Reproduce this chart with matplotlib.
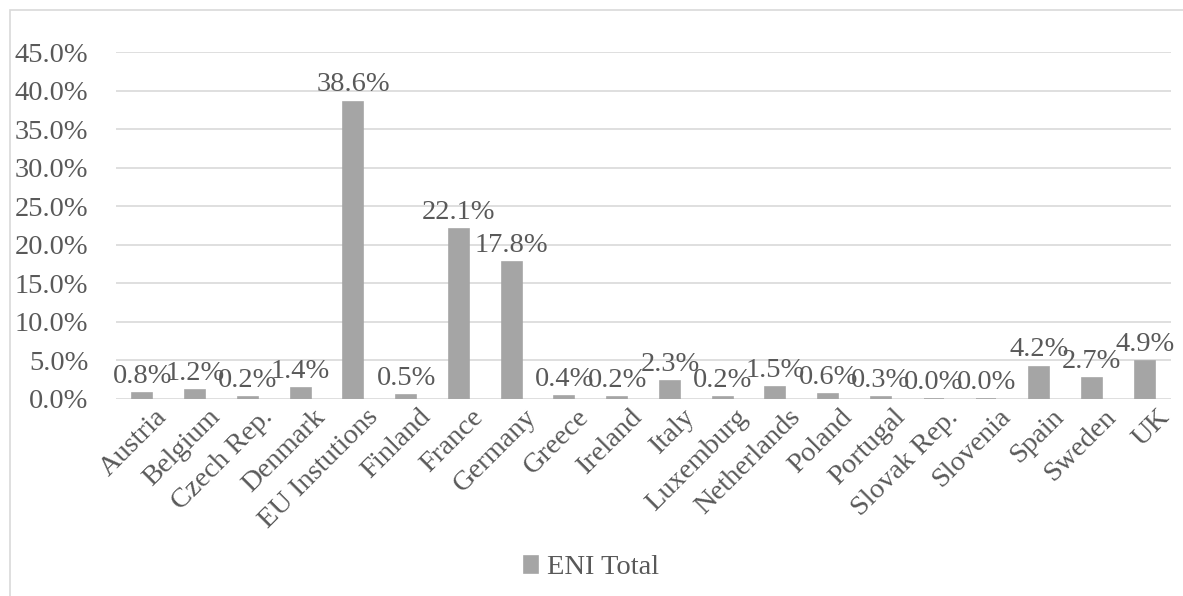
import numpy as np
import matplotlib.pyplot as plt
import matplotlib.transforms as mtransforms
from matplotlib.patches import Rectangle
from matplotlib.ticker import PercentFormatter

plt.rcParams['font.family'] = ['Liberation Serif', 'DejaVu Serif']

countries = ['Austria', 'Belgium', 'Czech Rep.', 'Denmark', 'EU Instutions', 'Finland',
             'France', 'Germany', 'Greece', 'Ireland', 'Italy', 'Luxemburg', 'Netherlands',
             'Poland', 'Portugal', 'Slovak Rep.', 'Slovenia', 'Spain', 'Sweden', 'UK']
eni_total = [0.8, 1.2, 0.2, 1.4, 38.6, 0.5, 22.1, 17.8, 0.4, 0.2, 2.3, 0.2, 1.5,
             0.6, 0.3, 0.04, 0.04, 4.2, 2.7, 4.9]

W, H = 1183, 596
FS = 20.5
fig = plt.figure(figsize=(W / 100, H / 100), dpi=100)
ax = fig.add_axes([116 / W, 1 - 399 / H, (1171 - 116) / W, (399 - 52.3) / H])

# outer chart border
fig.patches.append(Rectangle((10 / W, -0.05), 1.2, 1 - 10 / H + 0.05,
                             transform=fig.transFigure, fill=False,
                             edgecolor='#d9d9d9', linewidth=1.2))

text_col = '#595959'
bar_col = '#a5a5a5'
vals = np.array(eni_total) / 100
x = np.arange(len(countries))
ax.bar(x, vals, width=0.38, color=bar_col, edgecolor=bar_col, linewidth=1.2,
       label='ENI Total', zorder=3)

for xi, v in zip(x, eni_total):
    ax.annotate(f'{v:.1f}%', (xi, v / 100), xytext=(0, 3), textcoords='offset points',
                ha='center', va='bottom', fontsize=FS, color=text_col)

ax.set_xlim(-0.5, len(countries) - 0.5)
ax.set_ylim(0, 0.45)
ax.set_yticks(np.arange(0, 0.451, 0.05))
ax.yaxis.set_major_formatter(PercentFormatter(1.0, decimals=1))
ax.grid(axis='y', color='#d9d9d9', linewidth=1.2, zorder=0)
ax.set_axisbelow(True)
for s in ax.spines.values():
    s.set_visible(False)
ax.tick_params(length=0, labelsize=FS, colors=text_col)
ax.tick_params(axis='y', pad=20)
ax.tick_params(axis='x', pad=4)
ax.set_xticks(x)
ax.set_xticklabels(countries, rotation=45, ha='right', rotation_mode='anchor')
shift = mtransforms.ScaledTranslation(12 / 100, 0, fig.dpi_scale_trans)
for lbl in ax.get_xticklabels():
    lbl.set_color(text_col)
    lbl.set_transform(lbl.get_transform() + shift)

leg = fig.legend(loc='center', bbox_to_anchor=(0.5, 1 - 568 / H), frameon=False,
                 fontsize=FS, handlelength=0.5, handleheight=0.5, handletextpad=0.3)
for t in leg.get_texts():
    t.set_color(text_col)

fig.savefig('out.png', dpi=100)
